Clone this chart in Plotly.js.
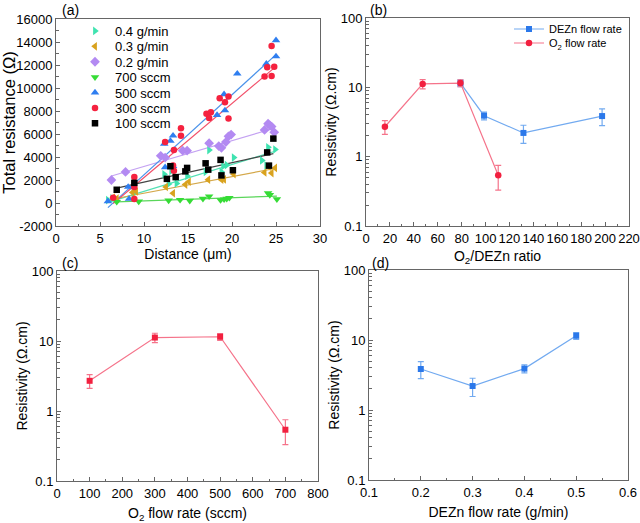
<!DOCTYPE html>
<html>
<head>
<meta charset="utf-8">
<script src="https://cdn.plot.ly/plotly-3.0.1.min.js"></script>
<style>html,body{margin:0;padding:0;background:#fff}#chart{width:640px;height:523px}</style>
</head>
<body>
<div id="chart"></div>
<script>
// ---------- Panel (a): total resistance vs distance ----------
const seriesNames = ['0.4 g/min', '0.3 g/min', '0.2 g/min', '700 sccm', '500 sccm', '300 sccm', '100 sccm'];
const resTickVals = [-2000, 0, 2000, 4000, 6000, 8000, 10000, 12000, 14000, 16000];
const resTickText = ['-2000', '0', '2000', '4000', '6000', '8000', '10000', '12000', '14000', '16000'];

const dist04 = [5.9, 6.4, 8.8, 12.3, 12.8, 13.1, 13.7, 14.9, 17.0, 17.4, 18.8, 19.0, 19.4, 20.2, 23.4, 23.9, 24.1, 24.9];
const res04  = [250, 400, 850, 2500, 1650, 2800, 1700, 2350, 2700, 4600, 2700, 3200, 3300, 3950, 3700, 3250, 4850, 4650];

const dist03 = [6.5, 6.9, 8.7, 9.1, 12.5, 13.3, 14.7, 15.1, 17.3, 18.8, 19.1, 20.2, 23.7, 24.2, 24.5, 24.9];
const res03  = [480, 380, 920, 1000, 1400, 850, 1600, 1850, 2030, 2030, 2050, 2500, 2650, 3150, 2600, 3050];

const dist02 = [6.3, 7.9, 11.9, 12.4, 14.4, 14.9, 17.4, 18.5, 18.8, 19.3, 19.6, 19.9, 23.7, 24.1, 24.3, 24.5, 24.8];
const res02  = [2000, 2700, 4100, 3950, 4550, 4550, 5200, 4950, 4800, 5300, 5800, 5950, 6350, 6900, 6750, 6650, 6150];

const dist700 = [6.9, 9.4, 12.8, 14.1, 15.2, 16.7, 17.4, 18.7, 19.1, 19.4, 19.7, 24.1, 24.3, 25.1];
const res700  = [100, 130, 220, 280, 200, 380, 580, 250, 320, 380, 450, 850, 700, 330];

const dist500 = [5.9, 8.2, 8.3, 12.3, 12.4, 13.0, 13.3, 13.3, 18.3, 19.1, 19.2, 20.6, 23.9, 25.0, 25.0];
const res500  = [150, 1400, 350, 5150, 3100, 5400, 5850, 3200, 7650, 9450, 8050, 11250, 12100, 14150, 12750];

const dist300 = [6.5, 8.9, 8.9, 8.9, 12.4, 13.3, 13.4, 13.4, 14.2, 14.2, 17.1, 17.4, 17.6, 18.6, 19.2, 19.6, 19.6, 23.7, 24.0, 24.5, 24.5, 24.8];
const res300  = [450, 2250, 1400, 350, 5300, 3250, 2800, 4600, 6500, 5850, 7750, 7400, 7900, 9100, 8750, 9250, 7350, 11000, 11800, 13650, 11050, 11850];

const dist100 = [6.9, 8.9, 12.6, 13.0, 13.6, 14.7, 14.9, 17.0, 17.3, 18.7, 18.8, 20.1, 24.0, 24.2, 24.7];
const res100  = [1150, 1750, 2100, 3200, 2250, 2750, 3050, 3450, 2900, 3750, 2400, 2850, 4400, 3250, 5600];

// linear-fit end points (x from, x to ; y from, y to)
const fitX04 = [5.9, 24.9],  fitY04 = [50, 4500];
const fitX03 = [6.5, 24.9],  fitY03 = [350, 3000];
const fitX02 = [6.3, 24.8],  fitY02 = [2350, 6500];
const fitX700 = [6.9, 25.1], fitY700 = [100, 600];
const fitX500 = [5.9, 25.0], fitY500 = [-400, 12900];
const fitX300 = [6.5, 24.8], fitY300 = [-50, 11750];
const fitX100 = [6.9, 24.7], fitY100 = [1300, 4300];

// ---------- Panels (b),(c),(d): resistivity ----------
const o2Flow = [100, 300, 500, 700];            // sccm
const o2Ratio = [15.8, 47.4, 79, 110.6];        // O2/DEZn ratio
const o2Res = [2.7, 11.2, 11.5, 0.54];          // ohm.cm
const o2Err = [0.6, 1.7, 1.3, 0.21];

const dezFlow = [0.2, 0.3, 0.4, 0.5];           // g/min
const dezRatio = [197.5, 131.7, 98.75, 79];
const dezRes = [3.85, 2.2, 3.9, 11.5];
const dezErr = [1.05, 0.64, 0.5, 1.3];

const logTickVals = [0.1, 1, 10, 100];
const logTickText = ['0.1', '1', '10', '100'];

// ---------- styling ----------
const FONT = 'Liberation Sans, Arial, sans-serif';
const cA = {
  c04: '#3fe3b0', c03: '#d9a21e', c02: '#b38af2', c700: '#36dc36',
  c500: '#2f7ef0', c300: '#f5223f', c100: '#000000'
};
const fitCol = {
  c04: '#52e0b4', c03: '#d4a84a', c02: '#c4a2f2', c700: '#5ad65a',
  c500: '#4a92ea', c300: '#f2506a', c100: '#444444'
};
const redM = '#f2203f', redL = '#f5738a', blueM = '#2b78ea', blueL = '#72aaf0';

const W = 640, H = 523;
const px = v => v / W, py = v => 1 - v / H;

const traces = [];
const groups = [
  ['c04', dist04, res04, fitX04, fitY04, 'triangle-right'],
  ['c03', dist03, res03, fitX03, fitY03, 'triangle-left'],
  ['c02', dist02, res02, fitX02, fitY02, 'diamond'],
  ['c700', dist700, res700, fitX700, fitY700, 'triangle-down'],
  ['c500', dist500, res500, fitX500, fitY500, 'triangle-up'],
  ['c300', dist300, res300, fitX300, fitY300, 'circle'],
  ['c100', dist100, res100, fitX100, fitY100, 'square']
];
const legendIds = ['legend', 'legend2', 'legend3', 'legend4', 'legend5', 'legend6', 'legend7'];
// fit lines first (drawn below markers)
groups.forEach(g => {
  traces.push({x: g[3], y: g[4], type: 'scatter', mode: 'lines', xaxis: 'x', yaxis: 'y',
    line: {color: fitCol[g[0]], width: 1.2}, showlegend: false, hoverinfo: 'skip'});
});
groups.forEach((g, i) => {
  traces.push({x: g[1], y: g[2], type: 'scatter', mode: 'markers', name: seriesNames[i],
    xaxis: 'x', yaxis: 'y', legend: legendIds[i],
    marker: {symbol: g[5], size: g[5] === 'square' || g[5] === 'circle' ? 6.5 : 7.5, color: cA[g[0]]}});
});

// panel (b)
traces.push({x: dezRatio, y: dezRes, type: 'scatter', mode: 'lines+markers', name: 'DEZn flow rate',
  xaxis: 'x2', yaxis: 'y2', legend: 'legend8',
  line: {color: blueL, width: 1.2}, marker: {symbol: 'square', size: 6, color: blueM},
  error_y: {type: 'data', array: dezErr, visible: true, color: blueL, thickness: 1.2, width: 3}});
traces.push({x: o2Ratio, y: o2Res, type: 'scatter', mode: 'lines+markers', name: 'O<sub>2</sub> flow rate',
  xaxis: 'x2', yaxis: 'y2', legend: 'legend9',
  line: {color: redL, width: 1.2}, marker: {symbol: 'circle', size: 6.5, color: redM},
  error_y: {type: 'data', array: o2Err, visible: true, color: redL, thickness: 1.2, width: 3}});

// panel (c)
traces.push({x: o2Flow, y: o2Res, type: 'scatter', mode: 'lines+markers', showlegend: false,
  xaxis: 'x3', yaxis: 'y3',
  line: {color: redL, width: 1.2}, marker: {symbol: 'square', size: 6, color: redM},
  error_y: {type: 'data', array: o2Err, visible: true, color: redL, thickness: 1.2, width: 3}});

// panel (d)
traces.push({x: dezFlow, y: dezRes, type: 'scatter', mode: 'lines+markers', showlegend: false,
  xaxis: 'x4', yaxis: 'y4',
  line: {color: blueL, width: 1.2}, marker: {symbol: 'square', size: 6, color: blueM},
  error_y: {type: 'data', array: dezErr, visible: true, color: blueL, thickness: 1.2, width: 3}});

const tickFont = {family: FONT, size: 13, color: '#000'};
const titleFont = {family: FONT, size: 14, color: '#000'};
function minorAx(extra) {
  return Object.assign({ticks: 'inside', ticklen: 2.5, tickcolor: '#666', showgrid: false}, extra);
}
function ax(extra) {
  return Object.assign({
    showline: true, mirror: true, linecolor: '#666', linewidth: 1,
    ticks: 'inside', ticklen: 4, tickcolor: '#666', tickwidth: 1,
    showgrid: false, zeroline: false, tickfont: tickFont, automargin: false
  }, extra);
}
function logAx(extra) {
  return ax(Object.assign({
    type: 'log', range: [-1, 2], tickmode: 'array', tickvals: logTickVals, ticktext: logTickText,
    minor: minorAx({tickmode: 'array',
      tickvals: [0.2,0.3,0.4,0.5,0.6,0.7,0.8,0.9,2,3,4,5,6,7,8,9,20,30,40,50,60,70,80,90]})
  }, extra));
}

const layout = {
  width: W, height: H, margin: {l: 0, r: 0, t: 0, b: 0},
  paper_bgcolor: '#fff', plot_bgcolor: '#fff',
  font: {family: FONT, color: '#000'},
  xaxis: ax({domain: [px(56), px(320)], anchor: 'y', range: [0, 30], dtick: 5, minor: minorAx({dtick: 2.5}),
    title: {text: 'Distance (μm)', font: titleFont, standoff: 4}}),
  yaxis: ax({domain: [py(226), py(19)], anchor: 'x', range: [-2000, 16000],
    tickmode: 'array', tickvals: resTickVals, ticktext: resTickText, minor: minorAx({dtick: 1000}),
    title: {text: 'Total resistance (Ω)', font: {family: FONT, size: 16.5, color: '#000'}, standoff: 0}}),
  xaxis2: ax({domain: [px(366), px(629)], anchor: 'y2', range: [0, 220], dtick: 20, minor: minorAx({dtick: 10}),
    title: {text: 'O<sub>2</sub>/DEZn ratio', font: titleFont, standoff: 6}}),
  yaxis2: logAx({domain: [py(226), py(18)], anchor: 'x2',
    title: {text: 'Resistivity (Ω.cm)', font: titleFont, standoff: 0}}),
  xaxis3: ax({domain: [px(57), px(318)], anchor: 'y3', range: [0, 800], dtick: 100, minor: minorAx({dtick: 50}),
    title: {text: 'O<sub>2</sub> flow rate (sccm)', font: titleFont, standoff: 8}}),
  yaxis3: logAx({domain: [py(481), py(271)], anchor: 'x3',
    title: {text: 'Resistivity (Ω.cm)', font: titleFont, standoff: 0}}),
  xaxis4: ax({domain: [px(369), px(628)], anchor: 'y4', range: [0.1, 0.6], dtick: 0.1, minor: minorAx({dtick: 0.05}),
    title: {text: 'DEZn flow rate (g/min)', font: titleFont, standoff: 8}}),
  yaxis4: logAx({domain: [py(480), py(270)], anchor: 'x4',
    title: {text: 'Resistivity (Ω.cm)', font: titleFont, standoff: 0}}),
  annotations: [
    {text: '(a)', x: px(60), y: py(10), xref: 'paper', yref: 'paper', xanchor: 'left', yanchor: 'middle', showarrow: false, font: titleFont},
    {text: '(b)', x: px(368), y: py(10), xref: 'paper', yref: 'paper', xanchor: 'left', yanchor: 'middle', showarrow: false, font: titleFont},
    {text: '(c)', x: px(60), y: py(263), xref: 'paper', yref: 'paper', xanchor: 'left', yanchor: 'middle', showarrow: false, font: titleFont},
    {text: '(d)', x: px(370), y: py(263), xref: 'paper', yref: 'paper', xanchor: 'left', yanchor: 'middle', showarrow: false, font: titleFont}
  ]
};
// one legend box per entry so the row spacing matches the reference
const rowA = [31, 46.4, 61.8, 77.2, 92.6, 108, 123.4];
legendIds.forEach((id, i) => {
  layout[id] = {x: px(75), y: py(rowA[i]), xanchor: 'left', yanchor: 'middle', bgcolor: 'rgba(0,0,0,0)',
    font: {family: FONT, size: 13, color: '#000'}};
});
const rowB = [29, 43];
['legend8', 'legend9'].forEach((id, i) => {
  layout[id] = {x: px(509), y: py(rowB[i]), xanchor: 'left', yanchor: 'middle', bgcolor: 'rgba(0,0,0,0)',
    font: {family: FONT, size: 11, color: '#000'}};
});

Plotly.newPlot('chart', traces, layout, {displayModeBar: false, staticPlot: true});
</script>
</body>
</html>
